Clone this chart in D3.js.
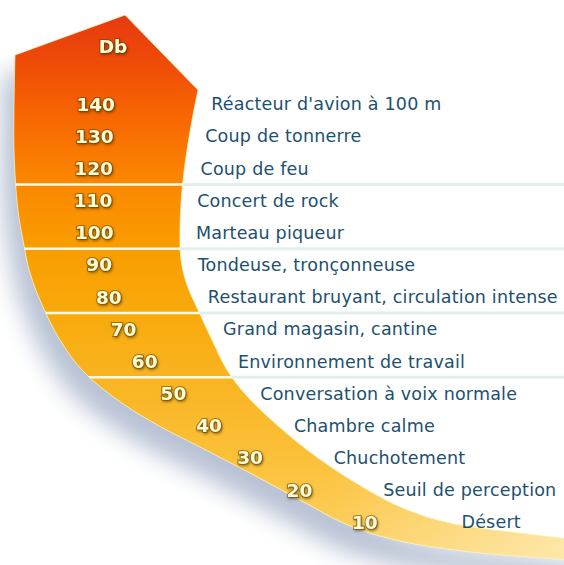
<!DOCTYPE html>
<html>
<head>
<meta charset="utf-8">
<script src="https://d3js.org/d3.v7.min.js"></script>
<style>
  body { margin: 0; background: #fff; }
  .num { font-family: 'DejaVu Sans', sans-serif; font-weight: bold; font-size: 18.5px; fill: #fffbd6;
         stroke: rgba(95, 65, 0, .5); stroke-width: 2.2px; paint-order: stroke; }
  .lab { font-family: 'DejaVu Sans', sans-serif; font-size: 17.5px; letter-spacing: 0.2px; fill: #21506f; }
</style>
</head>
<body>
<script>
// noise levels (dB) and their sources
const levels = [140, 130, 120, 110, 100, 90, 80, 70, 60, 50, 40, 30, 20, 10];
const sources = [
  "Réacteur d'avion à 100 m",
  'Coup de tonnerre',
  'Coup de feu',
  'Concert de rock',
  'Marteau piqueur',
  'Tondeuse, tronçonneuse',
  'Restaurant bruyant, circulation intense',
  'Grand magasin, cantine',
  'Environnement de travail',
  'Conversation à voix normale',
  'Chambre calme',
  'Chuchotement',
  'Seuil de perception',
  'Désert'
];
const groupBreaks = [115, 95, 75, 55];
const unitLabel = 'Db';

const width = 564, height = 565;

const svg = d3.select('body').append('svg')
  .attr('width', width).attr('height', height);

const y = d3.scaleLinear().domain([140, 10]).range([104, 522]);

// horn outline (drawing geometry)
const topPts = [[15, 55], [125, 15], [198, 90]];
const innerPts = [[198, 90], [193, 115], [187, 150], [182, 190], [180, 230], [181, 260], [187, 285],
  [199, 312], [212, 340], [227, 370], [246, 395], [277, 425], [318, 458], [366, 489], [405, 509], [450, 523], [520, 533], [590, 541]];
const outerPts = [[15, 55], [14, 150], [18, 210], [23, 240], [30, 273], [43, 307], [60, 340], [82, 370],
  [112, 396], [152, 422], [200, 447], [250, 473], [300, 500], [350, 526], [400, 541], [480, 553], [590, 561]];
const spinePts = [[98, 60], [94, 150], [95, 240], [110, 300], [140, 355], [178, 398], [240, 450], [300, 490], [365, 522], [450, 545]];

const curve = d3.line().curve(d3.curveCatmullRom.alpha(0.5));
const strip = s => s.replace(/^M/, 'L');
const hornPath = 'M' + topPts.map(p => p.join(',')).join('L') +
  strip(curve(innerPts)) + strip(curve(outerPts.slice().reverse())) + 'Z';

const defs = svg.append('defs');

const grad = defs.append('linearGradient').attr('id', 'hornGrad')
  .attr('gradientUnits', 'userSpaceOnUse').attr('x1', 0).attr('y1', 15).attr('x2', 0).attr('y2', 560);
[[0, '#e63a10'], [0.09, '#ef4c08'], [0.18, '#f76502'], [0.3, '#fb8600'], [0.42, '#f99c00'],
 [0.55, '#f8aa0c'], [0.68, '#f9b523'], [0.82, '#fbc13a'], [1, '#fcd46c']]
  .forEach(([o, c]) => grad.append('stop').attr('offset', o).attr('stop-color', c));

const fade = defs.append('linearGradient').attr('id', 'fadeGrad')
  .attr('gradientUnits', 'userSpaceOnUse').attr('x1', 330).attr('y1', 0).attr('x2', 564).attr('y2', 0);
fade.append('stop').attr('offset', 0).attr('stop-color', '#fffbe8').attr('stop-opacity', 0);
fade.append('stop').attr('offset', 1).attr('stop-color', '#fffbe8').attr('stop-opacity', 0.5);

defs.append('clipPath').attr('id', 'hornClip').append('path').attr('d', hornPath);

const shadowArea = 'M-20,55' + strip(curve(outerPts)) + 'L590,620L-20,620Z';
defs.append('clipPath').attr('id', 'shadowClip').append('path').attr('d', shadowArea);

defs.append('filter').attr('id', 'blur').attr('x', -0.3).attr('y', -0.3).attr('width', 1.6).attr('height', 1.6)
  .append('feGaussianBlur').attr('stdDeviation', 12);

const ds = defs.append('filter').attr('id', 'numShadow');
ds.append('feDropShadow').attr('dx', 1).attr('dy', 1.5).attr('stdDeviation', 1)
  .attr('flood-color', '#4a3300').attr('flood-opacity', 0.6);

// grey separators in the text area
svg.append('g').selectAll('line').data(groupBreaks).join('line')
  .attr('x1', 150).attr('x2', width)
  .attr('y1', d => y(d)).attr('y2', d => y(d))
  .attr('stroke', '#e3efed').attr('stroke-width', 3);

// soft shadow under the horn
svg.append('g').attr('clip-path', 'url(#shadowClip)')
  .append('path').attr('d', hornPath)
  .attr('transform', 'translate(-12,22)')
  .attr('fill', '#7d8fb0').attr('opacity', 0.55)
  .attr('filter', 'url(#blur)');

// horn
svg.append('path').attr('d', hornPath).attr('fill', 'url(#hornGrad)');
svg.append('path').attr('d', hornPath).attr('fill', 'url(#fadeGrad)');
svg.append('path').attr('d', hornPath).attr('fill', 'none')
  .attr('stroke', '#fff4c0').attr('stroke-width', 1).attr('opacity', 0.7);

// white separators inside the horn
svg.append('g').attr('clip-path', 'url(#hornClip)')
  .selectAll('line').data(groupBreaks).join('line')
  .attr('x1', 0).attr('x2', width)
  .attr('y1', d => y(d)).attr('y2', d => y(d))
  .attr('stroke', '#fffbe2').attr('stroke-width', 2.5);

// sample a curve so we can read x at a given y
function sampler(pts) {
  const p = svg.append('path').attr('d', curve(pts)).attr('fill', 'none').node();
  const L = p.getTotalLength(), s = [];
  for (let l = 0; l <= L; l += 1) { const q = p.getPointAtLength(l); s.push([q.x, q.y]); }
  p.remove();
  return yy => s.reduce((a, b) => Math.abs(b[1] - yy) < Math.abs(a[1] - yy) ? b : a)[0];
}
const innerX = sampler(innerPts);
const spineX = sampler(spinePts);

svg.append('text').attr('class', 'num')
  .attr('x', spineX(46) + 15).attr('y', 46).attr('dy', '0.36em')
  .attr('text-anchor', 'middle').attr('filter', 'url(#numShadow)')
  .text(unitLabel);

svg.append('g').selectAll('text').data(levels).join('text')
  .attr('class', 'num')
  .attr('x', d => spineX(y(d)))
  .attr('y', d => y(d)).attr('dy', '0.36em')
  .attr('text-anchor', 'middle').attr('filter', 'url(#numShadow)')
  .text(d => d);

svg.append('g').selectAll('text').data(levels).join('text')
  .attr('class', 'lab')
  .attr('x', d => innerX(y(d)) + 16)
  .attr('y', d => y(d)).attr('dy', '0.36em')
  .text((d, i) => sources[i]);
</script>
</body>
</html>
